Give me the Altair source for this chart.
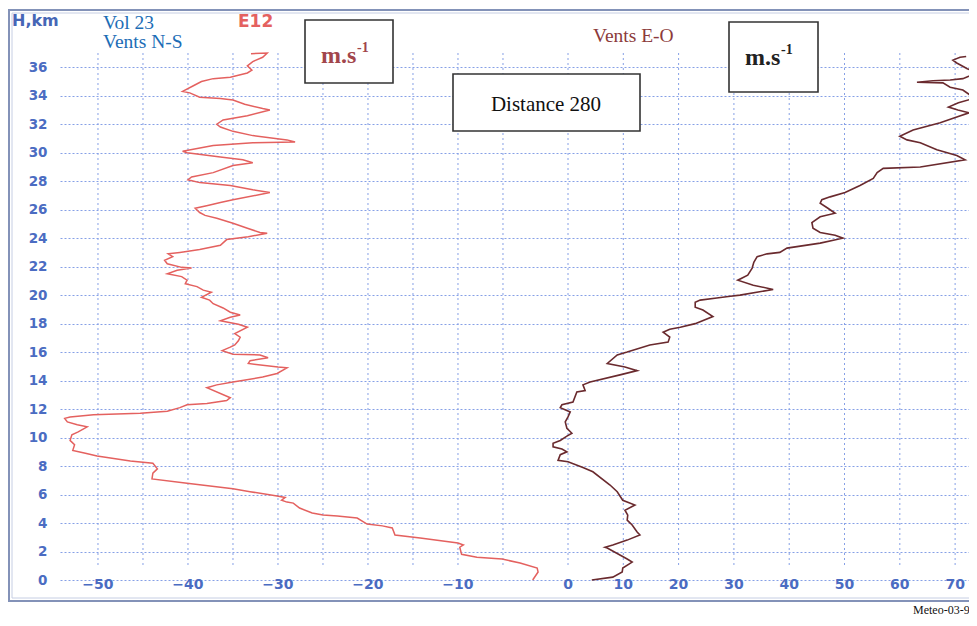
import altair as alt
import pandas as pd

# ---- data ----
ns_h = [0.0, 0.56, 0.84, 1.19, 1.47, 1.6, 1.8, 2.3, 2.46, 2.6, 2.95, 3.16, 3.65, 3.8, 3.93, 4.35, 4.5, 4.56,
        4.7, 5.05, 5.4, 5.47, 5.6, 5.8, 5.9, 6.2, 6.4, 6.8, 7.1, 7.5, 7.8, 8.2, 8.35, 8.7, 8.9, 9.1, 9.5, 9.8,
        10.2, 10.4, 10.75, 10.9, 11.1, 11.35, 11.45, 11.6, 11.7, 11.85, 12.1, 12.3, 12.4, 12.6, 12.8, 13.5,
        13.7, 13.9, 14.25, 14.5, 14.9, 14.95, 15.2, 15.4, 15.6, 15.8, 15.85, 16.1, 16.35, 16.5, 16.8, 17.05,
        17.3, 17.75, 17.95, 18.2, 18.45, 18.6, 18.8, 19.1, 19.4, 19.65, 19.85, 20.2, 20.35, 20.6, 20.8, 21.05,
        21.3, 21.5, 21.75, 21.9, 21.95, 22.2, 22.45, 22.7, 22.9, 23.0, 23.2, 23.5, 23.9, 24.1, 24.35, 24.4,
        24.7, 25.05, 25.4, 25.6, 25.8, 26.1, 26.3, 26.5, 26.7, 27.2, 27.4, 27.7, 27.9, 28.1, 28.3, 28.6, 29.1,
        29.3, 29.5, 29.7, 30.0, 30.1, 30.5, 30.7, 30.75, 30.9, 31.2, 31.5, 31.8, 32.0, 32.3, 32.6, 33.0, 33.1,
        33.4, 33.7, 33.8, 33.9, 34.2, 34.3, 34.7, 35.0, 35.2, 35.3, 35.6, 35.8, 36.1, 36.4, 36.7, 37.0, 36.95]
ns_v = [-1.7, -1.1, -1.2, -3.1, -5.1, -7.9, -9.6, -9.8, -9.4, -10.0, -14.2, -17.0, -17.3, -18.4, -20.1, -21.2,
        -23.4, -25.0, -26.2, -27.6, -28.3, -29.0, -29.6, -29.2, -30.1, -33.1, -35.0, -40.1, -44.0, -43.9, -43.4,
        -43.9, -46.4, -50.1, -51.4, -52.8, -52.6, -53.1, -52.9, -52.2, -51.2, -52.3, -53.4, -53.7, -53.1, -50.5,
        -45.3, -42.3, -40.9, -40.1, -37.9, -35.7, -35.3, -37.9, -36.8, -35.0, -31.7, -30.1, -29.0, -30.0, -33.3,
        -33.1, -31.1, -32.0, -35.0, -36.2, -35.3, -34.8, -34.4, -34.2, -34.8, -33.4, -34.4, -36.4, -35.3, -34.2,
        -35.3, -36.1, -37.2, -37.6, -38.5, -37.4, -38.3, -39.0, -40.3, -40.1, -40.7, -42.3, -41.2, -39.6, -40.7,
        -42.3, -42.6, -41.7, -42.2, -40.9, -38.7, -36.4, -35.7, -33.3, -31.2, -32.0, -33.4, -35.0, -36.8, -38.1,
        -38.7, -39.2, -37.8, -36.4, -35.0, -30.9, -32.8, -35.3, -38.7, -40.0, -39.6, -37.2, -35.0, -32.8, -33.9,
        -36.4, -40.1, -40.6, -37.2, -32.8, -28.1, -29.0, -32.8, -35.0, -36.4, -36.8, -36.1, -33.4, -30.9, -31.7,
        -33.7, -35.0, -36.4, -38.7, -39.8, -40.6, -39.4, -38.5, -37.2, -35.3, -33.4, -32.9, -33.4, -32.8, -31.7,
        -31.2, -33.0]

eo_h = [0.0, 0.2, 0.56, 0.84, 1.26, 1.47, 2.25, 2.3, 2.46, 2.8, 3.16, 3.37, 3.86, 4.2, 4.56, 4.9, 5.26, 5.6,
        6.2, 6.67, 7.6, 7.9, 8.3, 8.4, 8.8, 9.0, 9.2, 9.35, 9.6, 9.8, 10.1, 10.3, 10.65, 11.1, 11.45, 11.8,
        12.1, 12.3, 12.5, 13.2, 13.3, 13.7, 13.9, 14.4, 14.7, 14.95, 15.2, 15.8, 16.0, 16.5, 16.7, 17.05, 17.4,
        17.6, 17.75, 18.0, 18.5, 18.95, 19.15, 19.5, 19.65, 19.8, 19.9, 20.0, 20.4, 20.7, 21.05, 21.4, 21.9,
        22.3, 22.7, 22.9, 23.0, 23.3, 23.65, 24.0, 24.2, 24.4, 24.7, 25.1, 25.5, 25.75, 26.1, 26.45, 26.7,
        26.9, 27.2, 27.7, 28.2, 28.6, 28.9, 29.0, 29.5, 29.8, 30.2, 30.7, 30.9, 31.15, 31.6, 32.1, 32.5, 32.8,
        33.0, 33.2, 33.5, 33.8, 34.1, 34.4, 34.6, 34.9, 34.95, 35.05, 35.1, 35.2, 35.6, 35.9, 36.3, 36.5,
        36.7, 36.75]
eo_v = [4.3, 8.1, 9.8, 9.9, 11.6, 10.7, 7.1, 6.7, 8.1, 10.7, 13.0, 12.5, 11.6, 10.7, 10.8, 10.3, 12.1, 9.9,
        8.9, 7.6, 4.5, 2.7, 0.0, -1.8, -1.4, -0.2, -1.1, -2.7, -2.7, -1.4, -0.2, 0.7, -0.2, -0.5, 0.0, 0.4,
        -1.4, -1.1, 0.9, 1.6, 3.1, 2.7, 4.0, 9.4, 12.5, 10.3, 7.1, 8.9, 10.7, 14.8, 18.1, 18.4, 17.2, 18.4,
        20.3, 23.0, 26.2, 24.4, 23.0, 23.0, 23.9, 26.9, 29.0, 31.1, 37.1, 33.5, 30.7, 32.5, 33.3, 33.6, 34.2,
        36.0, 38.3, 39.6, 45.6, 49.7, 48.3, 45.6, 44.3, 44.1, 45.6, 48.3, 47.0, 45.6, 45.9, 47.4, 50.1, 52.8,
        55.2, 55.9, 57.0, 63.7, 71.8, 70.3, 66.7, 63.7, 61.3, 60.0, 62.4, 67.3, 70.3, 72.5, 70.5, 68.8, 70.6,
        73.2, 72.5, 71.4, 69.1, 67.8, 63.1, 66.0, 69.1, 71.4, 74.0, 72.2, 70.3, 69.6, 70.9, 72.0]

h_ticks = list(range(0, 37, 2))
ns_grid = [-50, -45, -40, -35, -30, -25, -20, -15, -10, -5]
eo_grid = [0, 10, 20, 30, 40, 50, 60, 70]
ns_labels = [-50, -40, -30, -20, -10]
eo_labels = [0, 10, 20, 30, 40, 50, 60, 70]

txt_hkm = "H,km"
txt_vol = "Vol 23"
txt_ns = "Vents N-S"
txt_e12 = "E12"
txt_eo = "Vents E-O"
txt_unit = "m.s"
txt_sup = "-1"
txt_dist = "Distance 280"
txt_src = "Meteo-03-9"

# ---- layout ----
W, H = 909, 527
GRID = "#86a0e6"
LAB = "#4b6cc2"

ns_scale = alt.Scale(domain=[-54.22, 46.78], zero=False, nice=False)
eo_scale = alt.Scale(domain=[-91.86, 72.51], zero=False, nice=False)
y_scale = alt.Scale(domain=[0, 37], zero=False, nice=False)
y_axis = alt.Axis(values=h_ticks, grid=True, gridColor=GRID, gridDash=[2, 2], gridWidth=1,
                  domain=False, ticks=False, labelPadding=13, labelFont="DejaVu Sans",
                  labelFontWeight="bold", labelFontSize=13.5, labelColor=LAB, title=None)

ns_df = pd.DataFrame({"i": range(len(ns_h)), "h": ns_h, "v": ns_v})
eo_df = pd.DataFrame({"i": range(len(eo_h)), "h": eo_h, "v": eo_v})
one = pd.DataFrame({"k": [0]})


def rect(x, x2, y, y2, **kw):
    return alt.Chart(one).mark_rect(**kw).encode(
        x=alt.value(x), x2=alt.value(x2), y=alt.value(y), y2=alt.value(y2))


def text(s, x, y, **kw):
    return alt.Chart(pd.DataFrame({"t": [s]})).mark_text(**kw).encode(
        x=alt.value(x), y=alt.value(y), text="t:N")


frame_out = rect(-51, 950, -43, 548, fill=None, stroke="#8392b8", strokeWidth=2)
frame_in = rect(-48, 950, -40, 545, fill=None, stroke="#c6cee3", strokeWidth=1)

vgrid_ns = alt.Chart(pd.DataFrame({"g": ns_grid})).mark_rule(
    color=GRID, strokeDash=[2, 3], strokeWidth=1).encode(
    x=alt.X("g:Q", scale=ns_scale, axis=None), y=alt.value(0), y2=alt.value(514))
vgrid_eo = alt.Chart(pd.DataFrame({"g": eo_grid})).mark_rule(
    color=GRID, strokeDash=[2, 3], strokeWidth=1).encode(
    x=alt.X("g:Q", scale=eo_scale, axis=None), y=alt.value(0), y2=alt.value(514))

ns_line = alt.Chart(ns_df).mark_line(color="#e4615f", strokeWidth=1.5).encode(
    x=alt.X("v:Q", scale=ns_scale, axis=None),
    y=alt.Y("h:Q", scale=y_scale, axis=y_axis),
    order="i:Q")
eo_line = alt.Chart(eo_df).mark_line(color="#6a2a2e", strokeWidth=1.6).encode(
    x=alt.X("v:Q", scale=eo_scale, axis=None),
    y=alt.Y("h:Q", scale=y_scale, axis=y_axis),
    order="i:Q")

lab_kw = dict(font="DejaVu Sans", fontWeight="bold", fontSize=14, color=LAB, align="center", baseline="middle")
xlab_ns = alt.Chart(pd.DataFrame({"t": ns_labels})).mark_text(**lab_kw).encode(
    x=alt.X("t:Q", scale=ns_scale, axis=None), y=alt.value(H + 5), text="t:Q")
xlab_eo = alt.Chart(pd.DataFrame({"t": eo_labels})).mark_text(**lab_kw).encode(
    x=alt.X("t:Q", scale=eo_scale, axis=None), y=alt.value(H + 5), text="t:Q")

box1 = rect(245, 333, -33, 30, fill="white", stroke="#333333", strokeWidth=1.6)
box2 = rect(393, 580, 21, 78, fill="white", stroke="#333333", strokeWidth=1.6)
box3 = rect(669, 758, -31, 39, fill="white", stroke="#333333", strokeWidth=1.6)

serif = "Liberation Serif"
t_hkm = text(txt_hkm, -48, -27, font="DejaVu Sans", fontWeight="bold", fontSize=16, color="#4666b6",
             align="left", baseline="alphabetic")
t_vol = text(txt_vol, 43, -24, font=serif, fontSize=19.5, color="#1c6db6", align="left", baseline="alphabetic")
t_ns = text(txt_ns, 43, -5, font=serif, fontSize=19.5, color="#1c6db6", align="left", baseline="alphabetic")
t_e12 = text(txt_e12, 178, -26, font="DejaVu Sans", fontWeight="bold", fontSize=17, color="#e4615f",
             align="left", baseline="alphabetic")
t_eo = text(txt_eo, 533, -11, font=serif, fontSize=19.5, color="#8c3b3b", align="left", baseline="alphabetic")
t_u1 = text(txt_unit, 261, 10, font=serif, fontWeight="bold", fontSize=24, color="#a2464c",
            align="left", baseline="alphabetic")
t_s1 = text(txt_sup, 297, -1, font=serif, fontWeight="bold", fontSize=14, color="#a2464c",
            align="left", baseline="alphabetic")
t_u3 = text(txt_unit, 685, 12, font=serif, fontWeight="bold", fontSize=24, color="#222222",
            align="left", baseline="alphabetic")
t_s3 = text(txt_sup, 721, 1, font=serif, fontWeight="bold", fontSize=14, color="#222222",
            align="left", baseline="alphabetic")
t_dist = text(txt_dist, 486, 58, font=serif, fontSize=21, color="#111111", align="center", baseline="alphabetic")
t_src = text(txt_src, 853, 561, font=serif, fontSize=12, color="#111111", align="left", baseline="alphabetic")

chart = alt.layer(
    frame_out, frame_in, vgrid_ns, vgrid_eo, ns_line, eo_line, xlab_ns, xlab_eo,
    box1, box2, box3, t_hkm, t_vol, t_ns, t_e12, t_eo, t_u1, t_s1, t_u3, t_s3, t_dist, t_src
).resolve_scale(x="independent").properties(
    width=W, height=H,
    autosize=alt.AutoSizeParams(type="none"),
    padding={"left": 52, "top": 45, "right": 0, "bottom": 38},
).configure_view(stroke=None)

chart.save("out.html", embed_options={"renderer": "svg", "actions": False})
